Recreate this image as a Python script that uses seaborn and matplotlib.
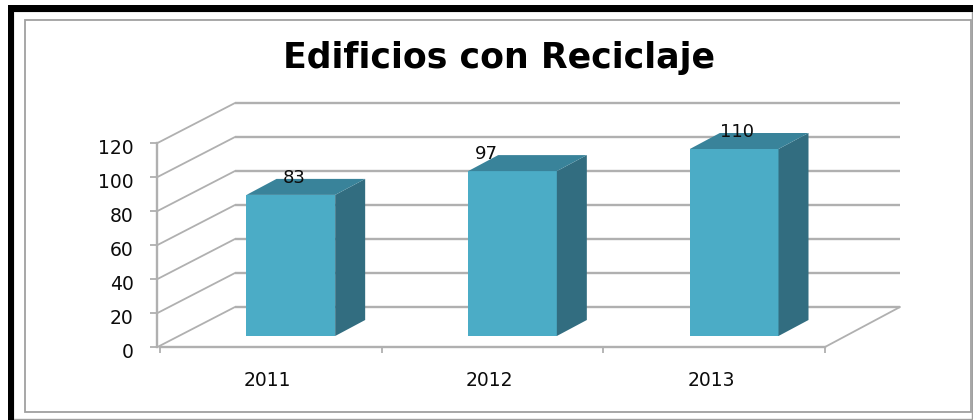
import matplotlib
matplotlib.use("Agg")
import matplotlib.pyplot as plt
import seaborn as sns
import pandas as pd
from matplotlib.patches import Polygon, Rectangle
from matplotlib.transforms import Affine2D

years = ["2011", "2012", "2013"]
values = [83, 97, 110]
y_ticks = [0, 20, 40, 60, 80, 100, 120]
title = "Edificios con Reciclaje"
label_nudge_px = [3, -26, 3]

W, H = 973, 420
GRID = "#b0b0b0"
INK = "#0c0c0c"
FRONT, SIDE, TOP = "#4bacc6", "#326d80", "#39839a"
WALL = (75, 40)          # depth of the oblique 3D box, px
BAR_FRONT = (20, 11)     # front face of bars relative to floor front edge
BAR_DEPTH = (30, 16)     # depth of the bars

sns.set_theme(style="white")
plt.rcParams["font.family"] = ["DejaVu Sans"]

fig = plt.figure(figsize=(W / 100, H / 100), dpi=100, facecolor="white")
ax = fig.add_axes([160 / W, (H - 347) / H, 665 / W, 204 / H])
ax.patch.set_alpha(0)

df = pd.DataFrame({"year": years, "value": values})
sns.barplot(data=df, x="year", y="value", color=FRONT, saturation=1, width=0.4,
            ax=ax, zorder=3)
ax.set_xlim(-0.5, 2.5)
ax.set_ylim(0, 120)
ax.set_xlabel("")
ax.set_ylabel("")


def shift(d):
    return Affine2D().translate(*d)


wall_tf = ax.transData + shift(WALL)

# walls: gridlines on back wall and diagonals on left wall
for v in y_ticks:
    ax.plot([-0.5, 2.5], [v, v], color=GRID, lw=1.7, transform=wall_tf,
            clip_on=False, zorder=1, solid_capstyle="butt")
    x0, y0 = ax.transData.transform((-0.5, v))
    ax.plot([x0 - 2.5, x0 + WALL[0]], [y0, y0 + WALL[1]], color=GRID, lw=1.3,
            transform=None, clip_on=False, zorder=1)
x1, y1 = ax.transData.transform((2.5, 0))
ax.plot([x1, x1 + WALL[0]], [y1, y1 + WALL[1]], color=GRID, lw=1.3,
        transform=None, clip_on=False, zorder=1)

# bars: move front faces on to the floor, add side and top faces
for patch, val, nudge in zip(ax.patches, values, label_nudge_px):
    patch.set_transform(ax.transData + shift(BAR_FRONT))
    patch.set_clip_on(False)
    patch.set_linewidth(0)
    cx = patch.get_x() + patch.get_width() / 2
    (xl, yb) = ax.transData.transform((patch.get_x(), 0))
    (xr, yt) = ax.transData.transform((patch.get_x() + patch.get_width(), val))
    xl, xr = xl + BAR_FRONT[0], xr + BAR_FRONT[0]
    yb, yt = yb + BAR_FRONT[1], yt + BAR_FRONT[1]
    dx, dy = BAR_DEPTH
    ax.add_patch(Polygon([(xr, yb), (xr + dx, yb + dy), (xr + dx, yt + dy), (xr, yt)],
                         closed=True, fc=SIDE, ec="none", transform=None,
                         clip_on=False, zorder=3))
    ax.add_patch(Polygon([(xl, yt), (xr, yt), (xr + dx, yt + dy), (xl + dx, yt + dy)],
                         closed=True, fc=TOP, ec="none", transform=None,
                         clip_on=False, zorder=3))
    ax.annotate(str(val), xy=(cx, val), xytext=(BAR_FRONT[0] + nudge, BAR_FRONT[1] + 17),
                textcoords="offset pixels", ha="center", va="center",
                fontsize=13, color=INK, zorder=5, annotation_clip=False)

# axes furniture
sns.despine(ax=ax, top=True, right=True)
for name in ("left", "bottom"):
    ax.spines[name].set_color(GRID)
    ax.spines[name].set_linewidth(1.7)
ax.spines["left"].set_position(("outward", 2))
ax.set_yticks(y_ticks)
ax.set_yticklabels([str(v) for v in y_ticks])
ax.set_xticks([-0.5, 0.5, 1.5, 2.5])
ax.set_xticklabels([])
ax.set_xticks([0, 1, 2], years, minor=True)
ax.tick_params(axis="y", left=True, length=5, width=1.3, color=GRID, pad=12,
               labelsize=13.5, labelcolor=INK)
ax.tick_params(axis="x", which="major", bottom=True, length=4, width=1.3, color=GRID)
ax.tick_params(axis="x", which="minor", bottom=False, length=0, pad=17,
               labelsize=13.5, labelcolor=INK)
for lab in ax.get_yticklabels():
    lab.set_verticalalignment("center")
    lab.set_transform(lab.get_transform() + shift((0, -5)))
for lab in ax.get_xticklabels(minor=True):
    lab.set_transform(lab.get_transform() + shift((-3, 0)))

fig.text(499.5 / W, 1 - 58 / H, title, ha="center", va="center",
         fontsize=25, fontweight="bold", color="black")


# frames
def frame(x0, y0, x1, y1, **kw):
    fig.add_artist(Rectangle((x0 / W, 1 - y1 / H), (x1 - x0) / W, (y1 - y0) / H,
                             transform=fig.transFigure, **kw))


frame(25, 20, 971, 412, fc="none", ec="#a0a0a0", lw=1.3)
frame(13, 11, 972, 419, fc="none", ec="#a0a0a0", lw=1.0)
frame(8, 5, 973, 11.5, fc="black", ec="none")
frame(8, 5, 13.5, 420, fc="black", ec="none")

fig.savefig("out.png", dpi=100)
